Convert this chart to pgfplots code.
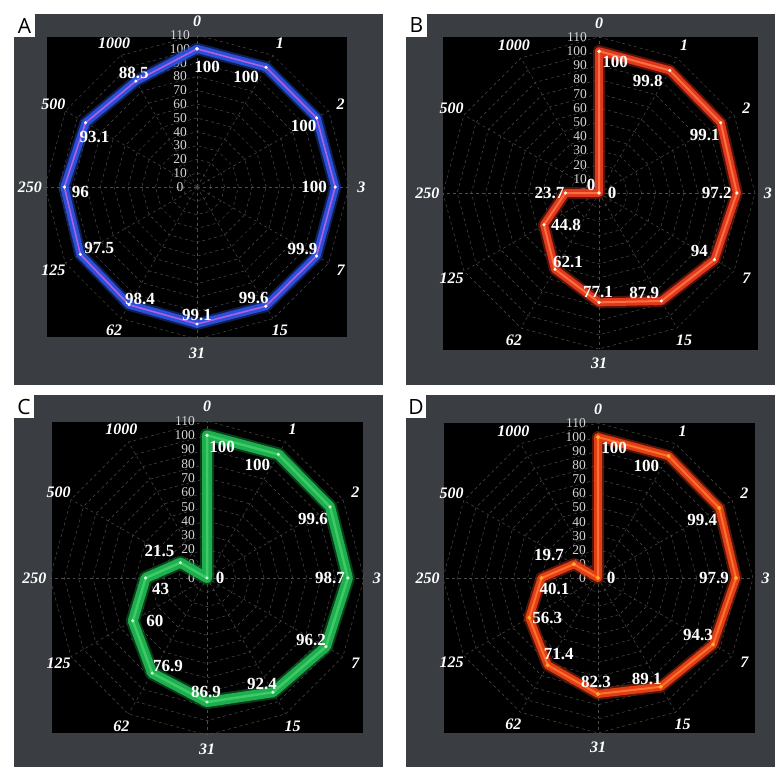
\documentclass[border=0pt]{standalone}
\usepackage{fontspec}
\setmainfont{Liberation Serif}
\newfontfamily\letterfont{Open Sans}
\usepackage{pgfplots}
\pgfplotsset{compat=1.18}
\usepackage{pgfplotstable}
\usepgfplotslibrary{polar}

\definecolor{panelgray}{HTML}{3A3D41}
\definecolor{gridgray}{HTML}{4E4E4E}
\definecolor{ticktext}{HTML}{D4D4D4}
\definecolor{blueglow}{HTML}{1E3A9E}
\definecolor{bluemain}{HTML}{2A4FD8}
\definecolor{bluecore}{HTML}{B060E0}
\definecolor{redglow}{HTML}{8C1E10}
\definecolor{redmain}{HTML}{E0381C}
\definecolor{redcore}{HTML}{FF6E40}
\definecolor{greenglow}{HTML}{0E6A2E}
\definecolor{greenmain}{HTML}{1EAE4E}
\definecolor{greencore}{HTML}{3CCB68}
\definecolor{orangeglow}{HTML}{8E2410}
\definecolor{orangemain}{HTML}{E23E14}
\definecolor{orangecore}{HTML}{FF7030}
\definecolor{dotyellow}{HTML}{FFB020}

% angle (degrees, counterclockwise from the right) and recovery for the four panels
% categories clockwise from the top: 0 1 2 3 7 15 31 62 125 250 500 1000 (0 again to close)
\pgfplotstableread{
ang A    B    C    D
90  100  100  100  100
60  100  99.8 100  100
30  100  99.1 99.6 99.4
0   100  97.2 98.7 97.9
330 99.9 94   96.2 94.3
300 99.6 87.9 92.4 89.1
270 99.1 77.1 86.9 82.3
240 98.4 62.1 76.9 71.4
210 97.5 44.8 60   56.3
180 96   23.7 43   40.1
150 93.1 0    21.5 19.7
120 88.5 0    0    0
90  100  100  100  100
}\recov

\pgfplotsset{
  radar/.style={
    hide axis, clip=false, scale only axis,
    xmin=0, xmax=360, ymin=0, ymax=110,
    anchor=center,
  },
  glow/.style={no marks, line join=round, line cap=round},
}

\tikzset{
  vlab/.style={text=white, inner sep=0pt, font=\bfseries\fontsize{17bp}{17bp}\selectfont},
  catlab/.style={text=white, inner sep=0pt, font=\bfseries\itshape\fontsize{16bp}{16bp}\selectfont},
  letter/.style={text=black, inner sep=0pt, font=\letterfont\fontsize{21bp}{21bp}\selectfont},
}

% grid, radial tick labels and category names; #1 = placement of the tick labels
\newcommand\radargrid[1]{%
  \pgfplotsinvokeforeach{10,20,...,110}{%
    \draw[gridgray, dashed, line width=0.5bp]
      (axis cs:0,##1) -- (axis cs:30,##1) -- (axis cs:60,##1) -- (axis cs:90,##1)
      -- (axis cs:120,##1) -- (axis cs:150,##1) -- (axis cs:180,##1) -- (axis cs:210,##1)
      -- (axis cs:240,##1) -- (axis cs:270,##1) -- (axis cs:300,##1) -- (axis cs:330,##1) -- cycle;
  }
  \pgfplotsinvokeforeach{0,30,...,330}{%
    \draw[gridgray, dashed, line width=0.5bp] (axis cs:0,0) -- (axis cs:##1,110);
  }
  \pgfplotsinvokeforeach{0,10,...,110}{%
    \node[text=ticktext, inner sep=0pt, font=\fontsize{13.5bp}{13.5bp}\selectfont, #1]
      at (axis cs:90,##1) {##1};
  }
  \node[catlab] at (axis cs:90,120) {0};
  \node[catlab] at (axis cs:60,120) {1};
  \node[catlab] at (axis cs:30,120) {2};
  \node[catlab] at (axis cs:0,119) {3};
  \node[catlab] at (axis cs:330,120) {7};
  \node[catlab] at (axis cs:300,120) {15};
  \node[catlab] at (axis cs:270,120) {31};
  \node[catlab] at (axis cs:240,120) {62};
  \node[catlab] at (axis cs:210,120) {125};
  \node[catlab] at (axis cs:180,121) {250};
  \node[catlab] at (axis cs:150,120) {500};
  \node[catlab] at (axis cs:120,120) {1000};
}

% value label: angle, radius, shift right, shift up, text
\newcommand\vlab[5]{\node[vlab, xshift=#3bp, yshift=#4bp] at (axis cs:#1,#2) {#5};}

\begin{document}
\begin{tikzpicture}

  \begin{scope}[x=1bp, y=-1bp]
    \fill[white] (0,0) rectangle (780,774);
    % A
    \fill[panelgray] (14,14) rectangle (383,385);
    \fill[white] (14,14) rectangle (35,37);
    \fill[black] (47,37) rectangle (347,337);
    \node[letter] at (24.5,25.5) {A};
    % B
    \fill[panelgray] (406,14) rectangle (775,385);
    \fill[white] (406,14) rectangle (427,37);
    \fill[black] (443,37) rectangle (758,350);
    \node[letter] at (416.5,25.5) {B};
    % C
    \fill[panelgray] (14,395) rectangle (383,767);
    \fill[white] (14,395) rectangle (34,418);
    \fill[black] (52,422) rectangle (363,733);
    \node[letter] at (24,406.5) {C};
    % D
    \fill[panelgray] (406,395) rectangle (775,767);
    \fill[white] (406,395) rectangle (426,418);
    \fill[black] (444,423) rectangle (755,733);
    \node[letter] at (416,406.5) {D};
  \end{scope}

  % ---------------- A ----------------
  \begin{polaraxis}[radar, at={(197bp,-187bp)}, width=304bp, height=304bp]
    \radargrid{anchor=center, xshift=-17bp}
    \addplot[glow, line width=12bp, blueglow, opacity=0.55] table[x=ang, y=A] {\recov};
    \addplot[glow, line width=8bp, bluemain] table[x=ang, y=A] {\recov};
    \addplot[glow, line width=1.6bp, bluecore] table[x=ang, y=A] {\recov};
    \addplot[only marks, mark=*, mark size=1.4bp, white] table[x=ang, y=A] {\recov};
    \vlab{90}{100}{10}{-18}{100}
    \vlab{60}{100}{-20}{-10}{100}
    \vlab{30}{100}{-13}{-8}{100}
    \vlab{0}{100}{-21}{0}{100}
    \vlab{330}{99.9}{-14}{7}{99.9}
    \vlab{300}{99.6}{-12}{8}{99.6}
    \vlab{270}{99.1}{0}{9}{99.1}
    \vlab{240}{98.4}{11}{6}{98.4}
    \vlab{210}{97.5}{19}{6}{97.5}
    \vlab{180}{96}{16}{-5}{96}
    \vlab{150}{93.1}{9}{-14}{93.1}
    \vlab{120}{88.5}{-2}{8}{88.5}
  \end{polaraxis}

  % ---------------- B ----------------
  \begin{polaraxis}[radar, at={(599bp,-193bp)}, width=312bp, height=312bp]
    \radargrid{anchor=east, xshift=-12bp}
    \addplot[glow, line width=12bp, redglow, opacity=0.6] table[x=ang, y=B] {\recov};
    \addplot[glow, line width=8bp, redmain] table[x=ang, y=B] {\recov};
    \addplot[glow, line width=2bp, redcore] table[x=ang, y=B] {\recov};
    \addplot[only marks, mark=*, mark size=1.4bp, white!85!yellow] table[x=ang, y=B] {\recov};
    \vlab{90}{100}{16}{-11}{100}
    \vlab{60}{99.8}{-22}{-11}{99.8}
    \vlab{30}{99.1}{-16}{-12}{99.1}
    \vlab{0}{97.2}{-20}{0}{97.2}
    \vlab{330}{94}{-15}{9}{94}
    \vlab{300}{87.9}{-17}{8}{87.9}
    \vlab{270}{77.1}{-1}{10}{77.1}
    \vlab{240}{62.1}{13}{7}{62.1}
    \vlab{210}{44.8}{22}{0}{44.8}
    \vlab{180}{23.7}{-16}{0}{23.7}
    \vlab{150}{0}{13}{0}{0}
    \vlab{120}{0}{-8}{8}{0}
  \end{polaraxis}

  % ---------------- C ----------------
  \begin{polaraxis}[radar, at={(207bp,-578bp)}, width=314bp, height=314bp]
    \radargrid{anchor=east, xshift=-12bp}
    \addplot[glow, line width=14bp, greenglow, opacity=0.6] table[x=ang, y=C] {\recov};
    \addplot[glow, line width=10bp, greenmain] table[x=ang, y=C] {\recov};
    \addplot[glow, line width=2.5bp, greencore] table[x=ang, y=C] {\recov};
    \addplot[only marks, mark=*, mark size=1.4bp, white!85!green] table[x=ang, y=C] {\recov};
    \vlab{90}{100}{15}{-12}{100}
    \vlab{60}{100}{-21}{-11}{100}
    \vlab{30}{99.6}{-17}{-12}{99.6}
    \vlab{0}{98.7}{-18}{0}{98.7}
    \vlab{330}{96.2}{-15}{7}{96.2}
    \vlab{300}{92.4}{-11}{8}{92.4}
    \vlab{270}{86.9}{-1}{10}{86.9}
    \vlab{240}{76.9}{16}{7}{76.9}
    \vlab{210}{60}{22}{0}{60}
    \vlab{180}{43}{15}{-11}{43}
    \vlab{150}{21.5}{-21}{12}{21.5}
    \vlab{120}{0}{13}{0}{0}
  \end{polaraxis}

  % ---------------- D ----------------
  \begin{polaraxis}[radar, at={(598bp,-578bp)}, width=310bp, height=310bp]
    \radargrid{anchor=east, xshift=-12bp}
    \addplot[glow, line width=12bp, orangeglow, opacity=0.6] table[x=ang, y=D] {\recov};
    \addplot[glow, line width=8bp, orangemain] table[x=ang, y=D] {\recov};
    \addplot[glow, line width=2bp, orangecore] table[x=ang, y=D] {\recov};
    \addplot[only marks, mark=*, mark size=1.8bp, dotyellow] table[x=ang, y=D] {\recov};
    \vlab{90}{100}{16}{-11}{100}
    \vlab{60}{100}{-22}{-10}{100}
    \vlab{30}{99.4}{-17}{-12}{99.4}
    \vlab{0}{97.9}{-22}{0}{97.9}
    \vlab{330}{94.3}{-15}{9}{94.3}
    \vlab{300}{89.1}{-14}{8}{89.1}
    \vlab{270}{82.3}{-2}{12}{82.3}
    \vlab{240}{71.4}{11}{11}{71.4}
    \vlab{210}{56.3}{18}{0}{56.3}
    \vlab{180}{40.1}{13}{-11}{40.1}
    \vlab{150}{19.7}{-25}{9}{19.7}
    \vlab{120}{0}{13}{0}{0}
  \end{polaraxis}

\end{tikzpicture}
\end{document}
